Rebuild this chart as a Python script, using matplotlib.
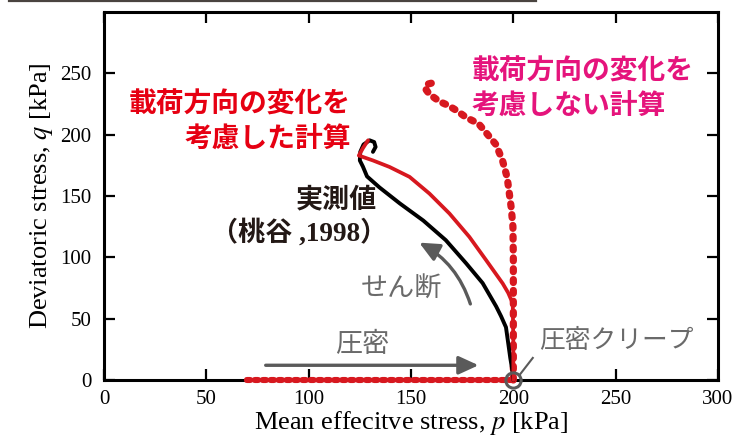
import numpy as np
import matplotlib.pyplot as plt
from matplotlib.lines import Line2D

# consolidation path (shared by both calculations)
p_consol = [70, 200]
q_consol = [0, 0]

# measured (Momotani, 1998)
p_meas = [200, 199.5, 198.5, 197.5, 196.4, 194, 191.6, 185, 177, 167, 156,
          144.5, 134.6, 128.5, 126.5, 125, 125.2, 126.8, 129.8, 132, 132.7, 131.4]
q_meas = [0, 8, 18, 30, 43, 52, 60, 79, 95, 114, 130,
          144, 157, 166, 174, 179, 186, 192, 195.4, 194, 190, 186]

# calculation considering the change of loading direction
p_calc = [200, 200, 199.7, 197.5, 194.8, 186.7, 178.5, 168.8, 159, 149.3,
          139.5, 131.4, 124.5, 126.5, 129]
q_calc = [0, 30, 62.5, 71, 78.7, 97.7, 116.7, 135.7, 152, 165.6,
          173.7, 179, 183, 189, 195.4]

# calculation without the change of loading direction
p_nodir = [200, 200, 200, 199.8, 199, 197, 194.7, 191.5, 188, 183, 177, 172,
           168, 164, 159, 157, 157.5, 160]
q_nodir = [0, 50, 100, 125, 140, 165, 179, 192, 199, 209, 214, 220,
           224, 227, 233, 237.5, 241, 242]

plt.rcParams['font.family'] = ['Liberation Serif', 'Noto Sans CJK JP']
plt.rcParams['mathtext.fontset'] = 'stix'

fig = plt.figure(figsize=(7.34, 4.46), dpi=100)
ax = fig.add_axes([0.1417, 0.148, 0.8365, 0.825])

red = '#d7181f'
red_txt = '#e60012'
pink = '#e5147c'
gray = '#5a5a5a'
gray_txt = '#6a6a6a'

# consolidation (solid + dense dots)
ax.plot(p_consol, q_consol, color=red, lw=3.2, clip_on=False, zorder=3)
ax.plot(p_consol, q_consol, color=red, lw=4.4, clip_on=False, zorder=3,
        linestyle=(0, (0.5, 0.8)), dash_capstyle='round')

# calculations and measured
ax.plot(p_nodir, q_nodir, color=red, lw=5.2, linestyle=(0, (0.4, 1.1)),
        dash_capstyle='round', clip_on=False, zorder=3)
ax.plot(p_meas, q_meas, color='black', lw=2.8, clip_on=False, zorder=4,
        solid_capstyle='round', solid_joinstyle='round')
ax.plot(p_calc, q_calc, color=red, lw=2.7, clip_on=False, zorder=5,
        solid_capstyle='round', solid_joinstyle='round')

# creep marker
ax.plot([200], [0], 'o', ms=11, mfc='none', mec=gray, mew=2.2, clip_on=False, zorder=6)
ax.plot([203, 209.5], [4, 18], color=gray, lw=1.5, clip_on=False, zorder=6)

# arrows
ax.annotate('', xy=(183, 12), xytext=(79, 12),
            arrowprops=dict(arrowstyle='-|>,head_length=1.2,head_width=0.55',
                            color=gray, lw=2.4, shrinkA=0, shrinkB=0))
ax.annotate('', xy=(154, 112), xytext=(179, 62),
            arrowprops=dict(arrowstyle='-|>,head_length=1.2,head_width=0.55',
                            color=gray, lw=2.4, shrinkA=0, shrinkB=0,
                            connectionstyle='arc3,rad=0.2'))

# labels
cjk = ['Noto Sans CJK JP']
ax.text(120.5, 210, '載荷方向の変化を\n考慮した計算', color=red_txt, fontsize=20,
        fontweight='bold', family=cjk, ha='right', va='center', linespacing=1.33)
ax.text(179.5, 237, '載荷方向の変化を\n考慮しない計算', color=pink, fontsize=20,
        fontweight='bold', family=cjk, ha='left', va='center', linespacing=1.33)
ax.text(133.5, 147, '実測値', color='#231815', fontsize=19.5, fontweight='bold',
        family=cjk, ha='right', va='center')
ax.text(138.5, 120, '（桃谷 ,1998）', color='#231815', fontsize=19.5, fontweight='bold',
        family=['Liberation Serif', 'Noto Sans CJK JP'], ha='right', va='center')
ax.text(145.5, 75, 'せん断', color=gray_txt, fontsize=19.5, family=cjk,
        ha='center', va='center')
ax.text(126, 29, '圧密', color=gray_txt, fontsize=19.5, family=cjk,
        ha='center', va='center')
ax.text(212.5, 32, '圧密クリープ', color=gray_txt, fontsize=18.5, family=cjk,
        ha='left', va='center')

ax.set_xlim(0, 300)
ax.set_ylim(0, 300)
ax.set_xticks([0, 50, 100, 150, 200, 250, 300])
ax.set_yticks([0, 50, 100, 150, 200, 250])
ax.tick_params(direction='in', length=8, width=1.6, labelsize=15,
               top=True, right=True, pad=7)
ax.tick_params(axis='y', pad=9)
for s in ax.spines.values():
    s.set_linewidth(2.2)

ax.set_xlabel('Mean effecitve stress, $\\it{p}$ [kPa]', fontsize=19, labelpad=0)
ax.set_ylabel('Deviatoric stress, $\\it{q}$ [kPa]', fontsize=19, labelpad=4)

fig.add_artist(Line2D([0.012, 0.73], [0.998, 0.998], color='#4a4440', lw=1.6,
                      transform=fig.transFigure))

fig.savefig('out.png', dpi=100)
